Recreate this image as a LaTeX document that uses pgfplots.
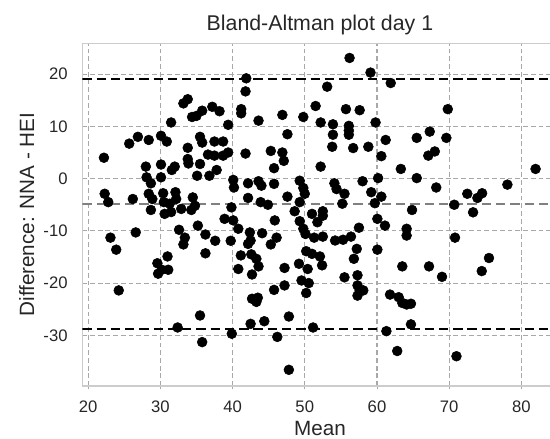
\documentclass[border=0pt]{standalone}
\usepackage{pgfplots}
\pgfplotsset{compat=1.18}
\usepackage{fontspec}
\setmainfont{Liberation Sans}
\definecolor{txt}{HTML}{262626}
\definecolor{gridc}{HTML}{A8A8A8}
\definecolor{framec}{HTML}{CCCCCC}
\begin{document}
\begin{tikzpicture}
\begin{axis}[
  scale only axis, width=356.5pt, height=257pt,
  xmin=19.2, xmax=85.0, ymin=-39.7, ymax=25.9,
  xtick={20,30,...,80}, ytick={-30,-20,...,20},
  grid=major,
  major grid style={gridc, line width=0.8pt, dash pattern=on 3.6pt off 2.2pt},
  axis line style={framec, line width=0.9pt},
  xtick pos=bottom, ytick pos=left, tick align=outside,
  xtick style={gridc, line width=0.7pt}, major tick length=2.5pt,
  ytick style={draw=none},
  /pgf/number format/assume math mode=true,
  tick label style={font=\fontsize{12.5pt}{14pt}\selectfont, text=txt},
  xticklabel style={yshift=-5pt},
  yticklabel style={xshift=-5pt},
  title={Bland-Altman plot day 1},
  title style={font=\fontsize{16pt}{18pt}\selectfont, text=txt, at={(0.5,1)}, anchor=base, yshift=3.7pt},
  xlabel={Mean}, ylabel={Difference: NNA - HEI},
  label style={font=\fontsize{15.5pt}{17pt}\selectfont, text=txt},
  clip=true,
]
\addplot[only marks, mark=*, mark size=3.7pt, black] table {
X Y
33.8 15.2
33.2 14.4
34.4 11.8
35.0 12.0
35.8 13.0
37.2 13.75
38.2 12.9
31.5 10.75
39.4 10.3
26.9 8.0
25.7 6.7
28.4 7.4
30.1 8.2
30.9 7.1
33.8 5.9
35.5 8.0
35.8 6.9
37.5 7.1
38.7 7.1
36.6 4.6
37.5 4.4
38.7 4.4
39.4 5.0
22.2 4.0
56.2 23.1
59.1 20.3
41.9 19.2
41.8 16.7
53.1 17.6
61.9 18.3
41.2 13.3
41.2 12.5
43.6 11.1
46.9 12.2
49.8 11.8
51.5 13.9
55.7 13.3
57.6 13.1
52.2 10.75
53.9 10.4
56.1 10.1
56.1 9.2
56.1 8.4
59.8 10.75
53.9 8.4
47.6 8.5
61.2 7.4
53.8 6.1
56.7 5.85
58.8 6.1
41.8 4.8
45.3 5.3
46.9 5.0
47.1 3.4
60.6 4.3
69.8 13.3
67.3 9.0
65.5 7.8
69.6 7.8
68.0 5.2
67.1 4.4
28.0 2.3
30.1 2.7
31.6 1.65
32.0 2.3
33.8 3.75
33.9 2.9
35.5 2.8
35.1 0.55
36.8 0.55
37.8 1.65
28.1 0.25
28.7 -0.9
30.1 0.25
40.1 -0.25
40.2 -1.7
22.3 -2.9
22.8 -4.5
26.2 -3.9
28.4 -2.9
28.9 -3.9
30.4 -2.8
30.5 -4.5
28.7 -6.0
30.6 -6.75
31.5 -6.4
32.1 -2.6
32.2 -3.9
31.3 -4.8
32.9 -5.8
34.3 -6.0
34.5 -3.6
34.8 -5.2
39.85 -5.5
38.9 -7.7
40.1 -8.0
40.8 -9.6
23.1 -11.3
23.9 -13.6
26.6 -10.3
32.6 -9.8
33.4 -11.3
33.2 -12.6
35.2 -9.0
36.25 -10.7
37.6 -11.9
39.75 -11.9
36.25 -14.3
31.0 -14.9
29.6 -16.2
30.2 -17.45
31.1 -17.45
29.7 -18.2
45.75 2.0
52.2 2.3
60.15 0.1
58.0 -0.5
42.15 -0.9
43.6 -0.5
44.0 -1.35
45.75 -1.0
49.3 -0.4
49.8 -1.8
50.0 -2.9
54.1 -0.9
54.4 -2.0
55.5 -2.9
59.2 -2.6
60.6 -3.45
42.15 -3.7
43.9 -4.5
44.9 -5.0
47.6 -3.45
49.3 -4.5
48.6 -6.25
51.0 -6.75
52.5 -6.25
52.5 -7.1
55.2 -4.8
59.7 -4.7
60.05 -7.7
61.1 -9.0
45.85 -8.0
49.3 -8.15
49.8 -9.6
50.1 -10.6
51.75 -8.35
51.3 -11.3
52.5 -11.1
42.4 -10.3
44.1 -10.45
42.5 -11.85
42.15 -12.5
46.1 -11.3
45.3 -12.6
54.2 -11.85
55.3 -11.7
56.4 -11.1
57.5 -9.4
57.2 -13.45
56.8 -15.35
60.05 -13.6
41.15 -14.7
42.6 -14.5
43.3 -15.35
43.6 -16.8
50.2 -13.9
51.0 -14.4
52.1 -14.9
52.4 -16.6
49.2 -16.3
50.4 -17.3
47.2 -17.1
40.8 -17.3
63.3 1.85
81.95 1.85
65.5 0.1
68.2 -1.7
78.05 -1.15
72.5 -2.9
73.9 -3.7
74.55 -2.8
70.7 -5.0
73.3 -6.45
64.85 -6.0
64.1 -9.6
64.1 -10.9
70.8 -11.3
75.5 -15.2
74.5 -17.7
63.5 -16.8
67.2 -16.8
69.0 -18.8
24.25 -21.4
35.5 -26.2
32.4 -28.5
35.8 -31.3
39.9 -29.7
42.7 -18.35
49.55 -19.5
50.55 -20.0
47.2 -20.45
45.75 -21.3
50.2 -21.9
42.7 -23.0
43.3 -23.6
43.5 -22.8
55.5 -18.9
57.3 -18.5
57.3 -20.45
57.6 -21.4
58.1 -21.4
57.3 -22.4
61.8 -22.2
42.5 -27.8
44.4 -27.3
47.8 -26.4
46.2 -30.3
51.15 -28.5
61.3 -29.2
62.8 -33.0
47.8 -36.6
63.0 -22.7
63.5 -23.8
64.1 -24.1
64.7 -23.95
64.7 -27.9
71.0 -34.0
};
\addplot[gray, line width=1.7pt, dash pattern=on 7pt off 3.7pt] coordinates {(19.2,-4.84) (85.0,-4.84)};
\addplot[black, line width=1.7pt, dash pattern=on 7pt off 3.7pt] coordinates {(19.2,19.04) (85.0,19.04)};
\addplot[black, line width=1.7pt, dash pattern=on 7pt off 3.7pt] coordinates {(19.2,-28.73) (85.0,-28.73)};
\end{axis}
\pgfresetboundingbox
\path[use as bounding box] (-61.7pt,-39.75pt) rectangle (350.8pt,289.5pt);
\end{tikzpicture}
\end{document}
